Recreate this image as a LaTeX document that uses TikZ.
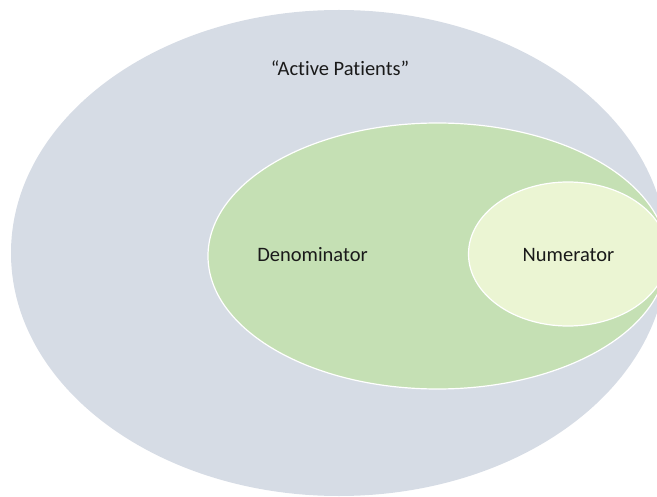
\documentclass[tikz,border=0pt]{standalone}
\usepackage{fontspec}
\setmainfont[RawFeature={-liga}]{Carlito}
\definecolor{outerblue}{HTML}{D6DCE5}
\definecolor{midgreen}{HTML}{C5E0B4}
\definecolor{innergreen}{HTML}{EBF5D3}
\definecolor{labelgray}{HTML}{1A1A1A}
\tikzset{
  setlabel/.style={anchor=base, inner sep=0pt, font=\fontsize{20.5bp}{24bp}\selectfont, text=labelgray},
  innerset/.style={draw=white, line width=1.2bp}
}
\begin{document}
\begin{tikzpicture}[x=1bp,y=-1bp]
\useasboundingbox (0,0) rectangle (657,497);
\clip (0,0) rectangle (657,497);
\fill[outerblue] (339,253) ellipse [x radius=328, y radius=243];
\filldraw[fill=midgreen, innerset] (437.5,256) ellipse [x radius=229.5, y radius=133];
\filldraw[fill=innergreen, innerset] (568,254) ellipse [x radius=99.5, y radius=72];
\node[setlabel] (active) at (340,76) {“Active Patients”};
\node[setlabel] (denom) at (312.5,262) {Denominator};
\node[setlabel] (numer) at (568.5,262) {Numerator};
\end{tikzpicture}
\end{document}
